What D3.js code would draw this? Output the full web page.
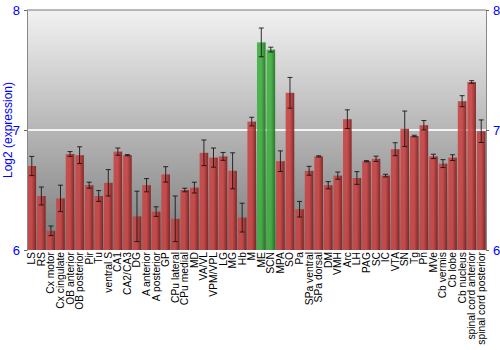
<!DOCTYPE html>
<html>
<head>
<meta charset="utf-8">
<script src="https://cdn.jsdelivr.net/npm/d3@7"></script>
<style>
  body { margin: 0; background: #fff; }
  text { font-family: "Liberation Sans", Arial, sans-serif; }
</style>
</head>
<body>
<svg id="chart" width="500" height="350"></svg>
<script>
const regions = ["LS", "RS", "Cx motor", "Cx cingulate", "OB anterior", "OB posterior", "Pir", "Tu",
  "ventral S", "CA1", "CA2/CA3", "DG", "A anterior", "A posterior", "GP", "CPu lateral", "CPu medial",
  "MD", "VA/VL", "VPM/VPL", "LG", "MG", "Hb", "M", "ME", "SCN", "MPA", "SO", "Pa", "SPa ventral",
  "SPa dorsal", "DM", "VMH", "Arc", "LH", "PAG", "SC", "IC", "VTA", "SN", "Tg", "Pn", "MVe",
  "Cb vermis", "Cb lobe", "Cb nucleus", "spinal cord anterior", "spinal cord posterior"];

const expression = [6.70, 6.45, 6.16, 6.43, 6.80, 6.79, 6.54, 6.45, 6.56, 6.82, 6.79, 6.28, 6.54,
  6.32, 6.63, 6.26, 6.50, 6.52, 6.81, 6.77, 6.78, 6.66, 6.27, 7.07, 7.73, 7.67, 6.74, 7.31, 6.34,
  6.66, 6.78, 6.54, 6.62, 7.09, 6.60, 6.74, 6.76, 6.62, 6.84, 7.01, 6.95, 7.04, 6.78, 6.72, 6.77,
  7.24, 7.40, 6.99];

const errors = [0.08, 0.075, 0.04, 0.11, 0.02, 0.07, 0.025, 0.045, 0.11, 0.03, 0.005, 0.21, 0.055,
  0.04, 0.064, 0.19, 0.015, 0.045, 0.107, 0.08, 0.033, 0.15, 0.12, 0.036, 0.12, 0.02, 0.086, 0.128,
  0.065, 0.037, 0.005, 0.03, 0.03, 0.078, 0.053, 0.005, 0.022, 0.011, 0.054, 0.148, 0.006, 0.039,
  0.018, 0.033, 0.024, 0.046, 0.011, 0.094];

const highlighted = ["ME", "SCN"];
const yTicks = [6, 7, 8];

const svg = d3.select("#chart");
const plotLeft = 27, plotRight = 486, plotTop = 10, plotBottom = 250;

const x = d3.scaleBand().domain(regions).range([plotLeft, plotRight]).paddingInner(0.1).paddingOuter(0.05);
const y = d3.scaleLinear().domain([6, 8]).range([plotBottom, plotTop]);

const defs = svg.append("defs");
const bg = defs.append("linearGradient").attr("id", "bg").attr("x1", 0).attr("y1", 0).attr("x2", 0).attr("y2", 1);
bg.append("stop").attr("offset", "0%").attr("stop-color", "#f2f2f2");
bg.append("stop").attr("offset", "100%").attr("stop-color", "#7a7a7a");

function barGradient(id, light, dark) {
  const g = defs.append("linearGradient").attr("id", id).attr("x1", 0).attr("y1", 0).attr("x2", 1).attr("y2", 0);
  g.append("stop").attr("offset", "0%").attr("stop-color", light);
  g.append("stop").attr("offset", "50%").attr("stop-color", light);
  g.append("stop").attr("offset", "100%").attr("stop-color", dark);
}
barGradient("red", "#c84444", "#7e1c1c");
barGradient("green", "#3fb03f", "#1c701c");

// plot background
svg.append("rect")
  .attr("x", plotLeft).attr("y", plotTop)
  .attr("width", plotRight - plotLeft).attr("height", plotBottom - plotTop)
  .attr("fill", "url(#bg)");

// grid line at 7
svg.append("line")
  .attr("x1", plotLeft).attr("x2", plotRight)
  .attr("y1", y(7)).attr("y2", y(7))
  .attr("stroke", "#f4f4f4").attr("stroke-width", 2);

const data = regions.map((r, i) => ({ region: r, value: expression[i], err: errors[i] }));

svg.selectAll("rect.bar")
  .data(data)
  .join("rect")
  .attr("class", "bar")
  .attr("x", d => x(d.region))
  .attr("width", x.bandwidth())
  .attr("y", d => y(d.value))
  .attr("height", d => y(6) - y(d.value))
  .attr("fill", d => highlighted.includes(d.region) ? "url(#green)" : "url(#red)")
  .attr("opacity", 0.9);

// error bars
const eb = svg.selectAll("g.err")
  .data(data)
  .join("g")
  .attr("class", "err")
  .attr("stroke", "#111")
  .attr("stroke-opacity", 0.85)
  .attr("stroke-width", 1);

eb.append("line")
  .attr("x1", d => x(d.region) + x.bandwidth() / 2)
  .attr("x2", d => x(d.region) + x.bandwidth() / 2)
  .attr("y1", d => y(d.value + d.err))
  .attr("y2", d => y(d.value - d.err));
eb.append("line")
  .attr("x1", d => x(d.region) + x.bandwidth() / 2 - 2.5)
  .attr("x2", d => x(d.region) + x.bandwidth() / 2 + 2.5)
  .attr("y1", d => y(d.value + d.err))
  .attr("y2", d => y(d.value + d.err));
eb.append("line")
  .attr("x1", d => x(d.region) + x.bandwidth() / 2 - 2.5)
  .attr("x2", d => x(d.region) + x.bandwidth() / 2 + 2.5)
  .attr("y1", d => y(d.value - d.err))
  .attr("y2", d => y(d.value - d.err));

// frame line on top
svg.append("line").attr("x1", plotLeft).attr("x2", plotRight).attr("y1", plotTop).attr("y2", plotTop)
  .attr("stroke", "#777");

// axes
const yLeft = svg.append("g")
  .attr("transform", `translate(${plotLeft},0)`)
  .call(d3.axisLeft(y).tickValues(yTicks).tickFormat(d3.format("d")).tickSize(3).tickPadding(4));
const yRight = svg.append("g")
  .attr("transform", `translate(${plotRight},0)`)
  .call(d3.axisRight(y).tickValues(yTicks).tickFormat(d3.format("d")).tickSize(3).tickPadding(4));

[yLeft, yRight].forEach(g => {
  g.select(".domain").attr("stroke", "#888");
  g.selectAll(".tick line").attr("stroke", "#666");
  g.selectAll(".tick text").attr("fill", "#0000ff").attr("font-size", 13)
    .style("font-family", "Liberation Sans, Arial, sans-serif");
});

svg.append("text")
  .attr("transform", `translate(12,${y(7)}) rotate(-90)`)
  .attr("text-anchor", "middle")
  .attr("fill", "#0000ff")
  .attr("font-size", 12)
  .text("Log2 (expression)");

// category labels
svg.selectAll("text.cat")
  .data(regions)
  .join("text")
  .attr("class", "cat")
  .attr("transform", d => `translate(${x(d) + x.bandwidth() / 2 + 3.5},${plotBottom + 2}) rotate(-90)`)
  .attr("text-anchor", "end")
  .attr("font-size", 10.3)
  .attr("fill", "#000")
  .text(d => d);
</script>
</body>
</html>
